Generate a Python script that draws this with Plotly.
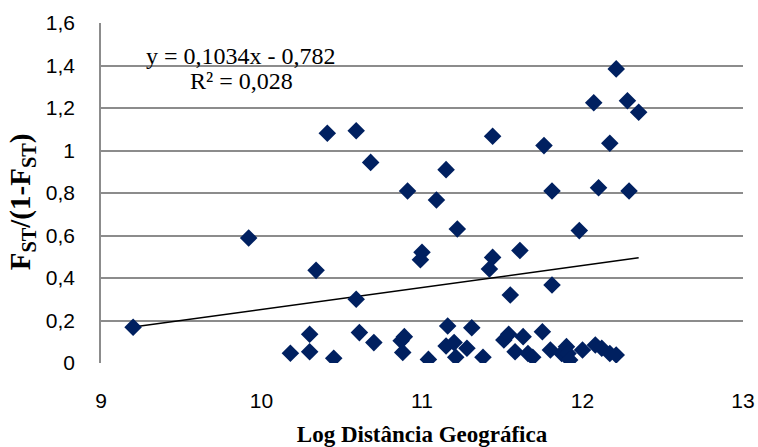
import plotly.graph_objects as go

# Data
log_dist = [9.20, 9.92, 10.18, 10.30, 10.30, 10.34, 10.41, 10.45, 10.59, 10.59,
            10.61, 10.68, 10.70, 10.87, 10.89, 10.88, 10.91, 10.99, 11.00, 11.04,
            11.09, 11.15, 11.16, 11.15, 11.20, 11.21, 11.22, 11.28, 11.31, 11.38,
            11.42, 11.44, 11.44, 11.51, 11.54, 11.55, 11.58, 11.61, 11.63, 11.66,
            11.69, 11.75, 11.76, 11.80, 11.81, 11.81, 11.87, 11.90, 11.91, 11.92,
            11.98, 12.00, 12.07, 12.08, 12.10, 12.12, 12.17, 12.17, 12.21, 12.21,
            12.28, 12.29, 12.35]
fst_ratio = [0.168, 0.588, 0.046, 0.135, 0.053, 0.436, 1.081, 0.022, 1.093, 0.300,
             0.143, 0.944, 0.096, 0.105, 0.124, 0.050, 0.809, 0.486, 0.521, 0.017,
             0.767, 0.910, 0.174, 0.080, 0.096, 0.027, 0.631, 0.069, 0.166, 0.027,
             0.442, 0.497, 1.067, 0.108, 0.135, 0.320, 0.053, 0.529, 0.124, 0.045,
             0.027, 0.147, 1.023, 0.061, 0.809, 0.367, 0.045, 0.077, 0.045, 0.014,
             0.623, 0.061, 1.225, 0.085, 0.825, 0.069, 1.034, 0.045, 1.384, 0.038,
             1.234, 0.809, 1.180]

trend_slope = 0.1034
trend_intercept = -0.782
equation_text = "y = 0,1034x - 0,782"
r2_text = "R² = 0,028"
x_title = "<b>Log Distância Geográfica</b>"
y_title = "<b>F<sub>ST</sub>/(1-F<sub>ST</sub>)</b>"

x_tickvals = [9, 10, 11, 12, 13]
x_ticktext = ["9", "10", "11", "12", "13"]
y_tickvals = [0, 0.2, 0.4, 0.6, 0.8, 1.0, 1.2, 1.4, 1.6]
y_ticktext = ["0", "0,2", "0,4", "0,6", "0,8", "1", "1,2", "1,4", "1,6"]

trend_x = [min(log_dist), max(log_dist)]
trend_y = [trend_slope * v + trend_intercept for v in trend_x]

fig = go.Figure()
fig.add_trace(go.Scatter(
    x=trend_x, y=trend_y, mode="lines",
    line=dict(color="black", width=1.5), hoverinfo="skip", showlegend=False))
fig.add_trace(go.Scatter(
    x=log_dist, y=fst_ratio, mode="markers",
    marker=dict(symbol="diamond", size=13.5, color="#002060",
                line=dict(width=0)),
    showlegend=False))

serif = "Liberation Serif, Times New Roman, serif"
sans = "Liberation Sans, Arial, sans-serif"

fig.add_annotation(x=9.87, y=1.445, text=equation_text, showarrow=False,
                   font=dict(family=serif, size=24, color="black"))
fig.add_annotation(x=9.875, y=1.325, text=r2_text, showarrow=False,
                   font=dict(family=serif, size=24, color="black"))
# rotated y-axis title
fig.add_annotation(xref="paper", yref="paper", x=-0.123, y=0.473,
                   xanchor="center", yanchor="middle", textangle=-90,
                   text=y_title, showarrow=False,
                   font=dict(family=serif, size=29, color="black"))

fig.update_layout(
    width=758, height=447,
    margin=dict(l=101, r=15, t=23, b=84),
    paper_bgcolor="white", plot_bgcolor="white",
    xaxis=dict(range=[9, 13], tickvals=x_tickvals, ticktext=x_ticktext,
               automargin=False,
               showgrid=False, zeroline=False, showline=False,
               ticks="outside", ticklen=19, tickcolor="rgba(0,0,0,0)",
               tickfont=dict(family=sans, size=21, color="black"),
               title=dict(text=x_title,
                          font=dict(family=serif, size=23, color="black"),
                          standoff=18)),
    yaxis=dict(range=[0, 1.6], tickvals=y_tickvals, ticktext=y_ticktext,
               automargin=False,
               showgrid=True, gridcolor="#8c8c8c", gridwidth=1.5,
               zeroline=False, showline=True, linecolor="#8c8c8c", linewidth=1.5,
               ticks="outside", ticklen=20, tickcolor="rgba(0,0,0,0)",
               tickfont=dict(family=sans, size=21, color="black")),
)

fig.write_html(
    "out.html",
    config={"displayModeBar": False},
    post_script="document.body.style.margin='0';document.body.style.overflow='hidden';",
)
